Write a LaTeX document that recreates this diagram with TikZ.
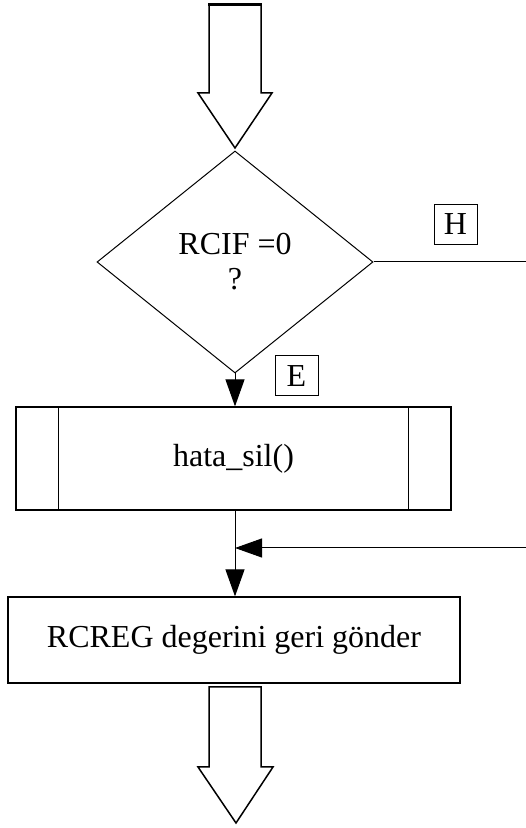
\documentclass[tikz,border=0pt]{standalone}
\usepackage{fontspec}
\setmainfont{Liberation Serif}
\usepackage{tikz}
\usetikzlibrary{arrows.meta, shapes, positioning}
\tikzset{flowbox/.style={rectangle, draw=black, line width=1.2pt, inner sep=0pt},flowdecision/.style={diamond, draw=black, line width=1pt, inner sep=0pt, align=center},flaglabel/.style={rectangle, draw=black, line width=1pt, minimum width=43pt, minimum height=40pt, inner sep=0pt}}

\begin{document}
\begin{tikzpicture}[
        line join=miter,
        font=\fontsize{32pt}{35pt}\selectfont,
        connector/.style={line width=1pt, -{Triangle[length=27pt, width=19pt]}},
        hollowarrow/.style={draw=black, fill=white, line width=1.5pt},
    ]
        \useasboundingbox (0pt, 0pt) rectangle (526pt, 828pt);
        % Entry and exit arrows
        \draw[hollowarrow] (209pt, 823pt) -- (261pt, 823pt) -- (261pt, 735pt) -- (272pt, 735pt) -- (235pt, 680pt) -- (198pt, 735pt) -- (209pt, 735pt) -- cycle;
        \draw[line width=3pt] (208pt, 823pt) -- (262pt, 823pt);
        \draw[hollowarrow] (209pt, 141pt) -- (261pt, 141pt) -- (261pt, 61pt) -- (273pt, 61pt) -- (236pt, 5pt) -- (198pt, 61pt) -- (209pt, 61pt) -- cycle;
        % Nodes
        \node[flowdecision, minimum width=276pt, minimum height=222pt] (rcif) at (235pt, 566pt) {RCIF =0\\?};
        \node[flowbox, minimum width=435pt, minimum height=103pt] (hatasil) at (233.5pt, 369.5pt) {hata\_sil()};
        \node[flowbox, minimum width=452pt, minimum height=86pt] (ret) at (234pt, 188pt) {RCREG degerini geri gönder};
        \node[flaglabel] (hayir) at (455.5pt, 603.5pt) {H};
        \node[flaglabel] (evet) at (296.5pt, 452pt) {E};
        % Side bars of the subroutine box
        \draw[line width=1.2pt] ([xshift=43pt]hatasil.north west) -- ([xshift=43pt]hatasil.south west);
        \draw[line width=1.2pt] ([xshift=-43pt]hatasil.north east) -- ([xshift=-43pt]hatasil.south east);
        % Connectors
        \coordinate (hout) at (526pt, 566pt);
        \coordinate (hin) at (526pt, 280pt);
        \coordinate (join) at (235pt, 280pt);
        \draw[connector] (rcif.south) -- (rcif.south |- hatasil.north);
        \draw[line width=1pt] (rcif.east) -- (hout);
        \draw[line width=1pt] (rcif.south |- hatasil.south) -- (join);
        \draw[connector] (hin) -- (join);
        \draw[connector] (join) -- (join |- ret.north);
    \end{tikzpicture}
\end{document}
